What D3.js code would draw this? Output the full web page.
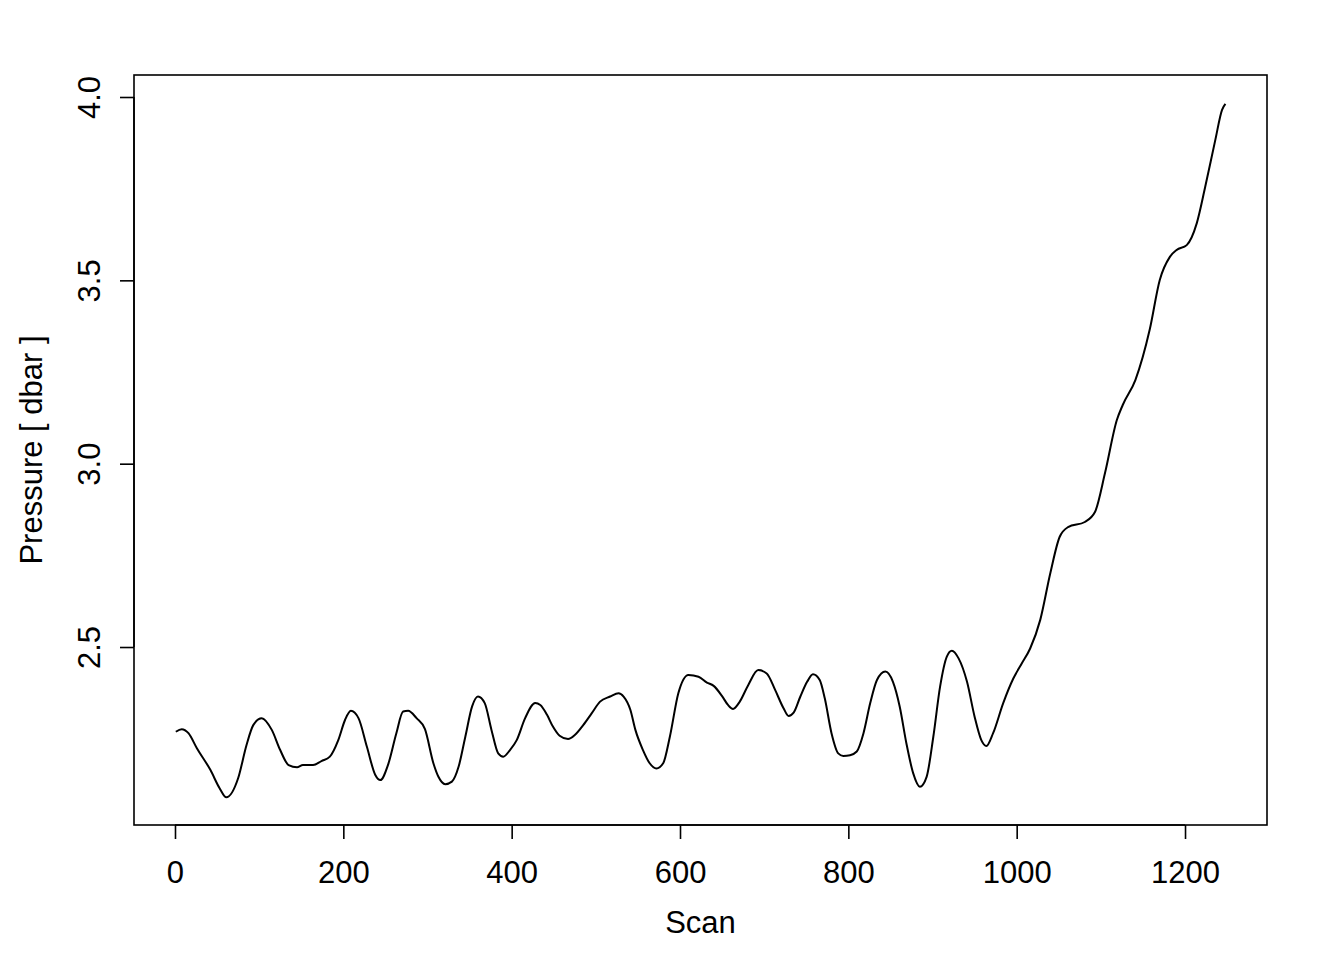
<!DOCTYPE html>
<html>
<head>
<meta charset="utf-8">
<script src="https://cdn.jsdelivr.net/npm/d3@7"></script>
<style>
  body { margin: 0; background: #fff; }
  text { font-family: "Liberation Sans", Arial, sans-serif; fill: #000; }
</style>
</head>
<body>
<svg id="chart"></svg>
<script>
// Scan numbers and pressure values
const scan = [1, 8, 16, 26, 42, 53, 61, 75, 85, 93, 103, 115, 125, 135, 145, 152, 164, 174, 184, 194,
  202, 209, 218, 228, 238, 244, 253, 263, 271, 277, 287, 297, 307, 313, 321, 329, 337, 345, 353, 360,
  368, 376, 384, 390, 398, 406, 416, 428, 434, 442, 449, 457, 467, 475, 485, 495, 505, 517, 527, 533,
  541, 547, 556, 564, 572, 580, 588, 598, 610, 622, 632, 640, 650, 657, 663, 671, 681, 693, 703, 713,
  723, 729, 735, 743, 751, 758, 766, 772, 780, 788, 794, 802, 810, 818, 826, 834, 844, 853, 861, 869,
  877, 885, 893, 901, 909, 917, 923, 931, 941, 950, 958, 964, 972, 984, 996, 1006, 1016, 1028, 1040, 1051,
  1061, 1081, 1093, 1105, 1119, 1126, 1141, 1158, 1170, 1182, 1190, 1202, 1214, 1224, 1236, 1244, 1248];
const pressure = [2.269, 2.276, 2.265, 2.224, 2.165, 2.115, 2.090, 2.142, 2.233, 2.287, 2.306, 2.274, 2.219, 2.178, 2.172, 2.178, 2.178, 2.189, 2.201, 2.246,
  2.301, 2.326, 2.306, 2.228, 2.151, 2.137, 2.178, 2.265, 2.324, 2.326, 2.306, 2.276, 2.183, 2.146, 2.126, 2.133, 2.174, 2.256, 2.338, 2.365,
  2.347, 2.274, 2.210, 2.201, 2.219, 2.246, 2.306, 2.347, 2.342, 2.315, 2.283, 2.258, 2.249, 2.260, 2.287, 2.319, 2.351, 2.365, 2.374, 2.365,
  2.329, 2.274, 2.219, 2.183, 2.169, 2.183, 2.256, 2.374, 2.424, 2.419, 2.403, 2.394, 2.366, 2.342, 2.331, 2.351, 2.396, 2.437, 2.428, 2.383,
  2.333, 2.312, 2.321, 2.365, 2.405, 2.426, 2.410, 2.360, 2.265, 2.210, 2.203, 2.205, 2.215, 2.265, 2.347, 2.410, 2.433, 2.405, 2.338, 2.237,
  2.156, 2.119, 2.146, 2.256, 2.392, 2.474, 2.490, 2.469, 2.405, 2.310, 2.246, 2.230, 2.265, 2.347, 2.414, 2.455, 2.496, 2.574, 2.702, 2.800,
  2.827, 2.841, 2.868, 2.975, 3.119, 3.160, 3.228, 3.365, 3.501, 3.564, 3.583, 3.596, 3.656, 3.755, 3.883, 3.965, 3.981];
const xTicks = [0, 200, 400, 600, 800, 1000, 1200];
const yTicks = [2.5, 3.0, 3.5, 4.0];

const width = 1344;
const height = 960;
const margin = { top: 75, right: 77, bottom: 135, left: 134 };
const fontSize = 31;

const svg = d3.select("#chart")
    .attr("width", width)
    .attr("height", height);

const x = d3.scaleLinear()
    .domain([-48.7, 1297.4])
    .range([margin.left, width - margin.right]);

const y = d3.scaleLinear()
    .domain([2.0146, 4.06])
    .range([height - margin.bottom, margin.top]);

// x axis (R style: line spans first to last tick)
const xAxis = svg.append("g")
    .attr("transform", `translate(0,${height - margin.bottom})`)
    .call(d3.axisBottom(x).tickValues(xTicks).tickSize(14).tickFormat(d3.format("d")));
xAxis.select(".domain").attr("d", `M${x(0)},0H${x(1200)}`);

const yAxis = svg.append("g")
    .attr("transform", `translate(${margin.left},0)`)
    .call(d3.axisLeft(y).tickValues(yTicks).tickSize(14).tickFormat(d3.format(".1f")));
yAxis.select(".domain").attr("d", `M0,${y(2.5)}V${y(4.0)}`);

svg.selectAll(".domain, .tick line")
    .attr("stroke", "#000")
    .attr("stroke-width", 1.6);

xAxis.selectAll(".tick text")
    .attr("font-size", fontSize)
    .attr("y", 58)
    .attr("dy", null);

// rotated y tick labels
yAxis.selectAll(".tick text")
    .attr("font-size", fontSize)
    .attr("x", null)
    .attr("dy", null)
    .attr("text-anchor", "middle")
    .attr("transform", "translate(-34,0) rotate(-90)");

// plot box
svg.append("rect")
    .attr("x", margin.left)
    .attr("y", margin.top)
    .attr("width", width - margin.left - margin.right)
    .attr("height", height - margin.top - margin.bottom)
    .attr("fill", "none")
    .attr("stroke", "#000")
    .attr("stroke-width", 1.6);

// axis titles
svg.append("text")
    .attr("x", (margin.left + width - margin.right) / 2)
    .attr("y", 933)
    .attr("text-anchor", "middle")
    .attr("font-size", fontSize)
    .text("Scan");

svg.append("text")
    .attr("transform", `translate(42,${(margin.top + height - margin.bottom) / 2}) rotate(-90)`)
    .attr("text-anchor", "middle")
    .attr("font-size", fontSize)
    .text("Pressure [ dbar ]");

// the trace
const line = d3.line()
    .x((d, i) => x(scan[i]))
    .y(d => y(d))
    .curve(d3.curveMonotoneX);

svg.append("path")
    .datum(pressure)
    .attr("d", line)
    .attr("fill", "none")
    .attr("stroke", "#000")
    .attr("stroke-width", 2);
</script>
</body>
</html>
